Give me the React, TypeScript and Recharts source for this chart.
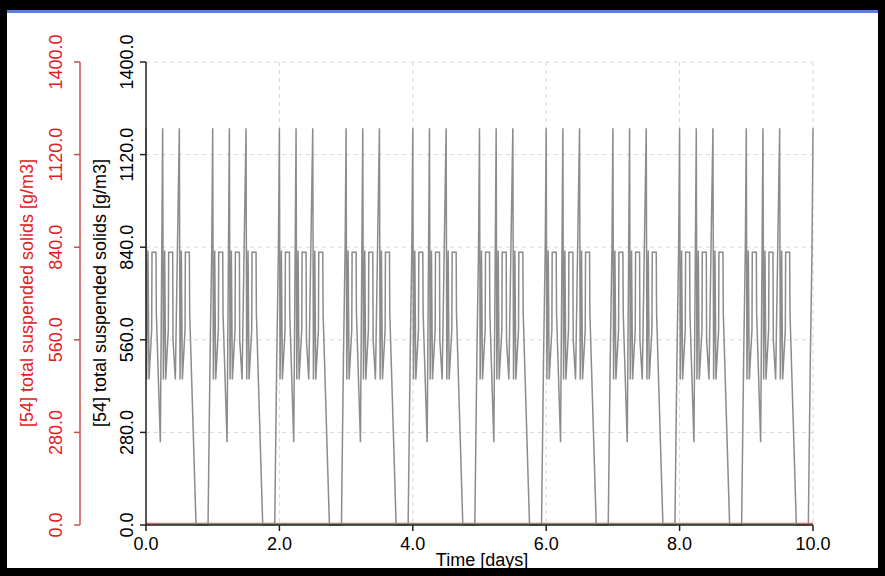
import { CartesianGrid, Line, LineChart, XAxis, YAxis } from "recharts"

// one day of the cycle (offset in days, g/m3)
const dayOffsets = [0.0, 0.01, 0.03, 0.045, 0.085, 0.09, 0.15, 0.155, 0.215, 0.25, 0.26, 0.28, 0.295, 0.335, 0.34, 0.4, 0.405, 0.44, 0.5, 0.51, 0.53, 0.545, 0.585, 0.59, 0.65, 0.655, 0.75, 0.93, 0.96, 0.985]
const dayValues = [1200, 440, 830, 440, 590, 825, 825, 640, 250, 1200, 440, 830, 440, 590, 825, 825, 560, 440, 1200, 440, 830, 440, 590, 825, 825, 640, 0, 0, 500, 830]
const days = [0, 1, 2, 3, 4, 5, 6, 7, 8, 9]
const lastTime = 10
const lastValue = 1200
const redLevel = 4

const xTicks = [0, 2, 4, 6, 8, 10]
const yTicks = [0, 280, 560, 840, 1120, 1400]
const yTitle = "[54] total suspended solids [g/m3]"
const xTitle = "Time [days]"

const data: { t: number; tss: number; red: number }[] = []
days.forEach((d) => {
    dayOffsets.forEach((o, i) => data.push({ t: d + o, tss: dayValues[i], red: redLevel }))
})
data.push({ t: lastTime, tss: lastValue, red: redLevel })

const FONT = "'Liberation Sans', Arial, sans-serif"
const RED = "#e31b23"

const RotTick = (props: any) => {
    const { x, y, payload, fill, dx } = props
    return (
        <text
            transform={`translate(${x + dx},${y}) rotate(-90)`}
            textAnchor="middle"
            dominantBaseline="central"
            fill={fill}
            fontSize={18}
            fontFamily={FONT}
        >
            {Number(payload.value).toFixed(1)}
        </text>
    )
}

const App = () => {
    return (
        <div style={{ position: 'absolute', left: 0, top: 0, width: 885, height: 576, background: '#000' }}>
            <div style={{ position: 'absolute', left: 7, top: 10, width: 871, height: 3, background: '#5b7fd4' }} />
            <div style={{ position: 'absolute', left: 7, top: 13, width: 871, height: 555, background: '#fff' }} />
            <div style={{ position: 'absolute', left: 0, top: 0 }}>
                <LineChart
                    width={885}
                    height={576}
                    data={data}
                    margin={{ top: 62, right: 72, left: 0, bottom: 0 }}
                >
                    <CartesianGrid yAxisId="black" stroke="#d8d8d8" strokeDasharray="4 4" />
                    <XAxis
                        dataKey="t"
                        type="number"
                        domain={[0, 10]}
                        ticks={xTicks}
                        height={51}
                        tickFormatter={(v: number) => v.toFixed(1)}
                        tick={{ fill: '#000', fontSize: 18, fontFamily: FONT }}
                        tickMargin={6}
                        stroke="#222"
                        strokeWidth={1.5}
                    />
                    <YAxis
                        yAxisId="black"
                        domain={[0, 1400]}
                        ticks={yTicks}
                        width={66}
                        stroke="#222"
                        strokeWidth={1.5}
                        tick={<RotTick fill="#000" dx={-11} />}
                    />
                    <YAxis
                        yAxisId="red"
                        domain={[0, 1400]}
                        ticks={yTicks}
                        width={80}
                        stroke="#c8504f"
                        strokeWidth={1.5}
                        tick={<RotTick fill={RED} dx={-16} />}
                    />
                    <Line
                        yAxisId="black"
                        type="linear"
                        dataKey="tss"
                        stroke="#8c8c8c"
                        strokeWidth={1.5}
                        dot={false}
                        isAnimationActive={false}
                    />
                    <Line
                        yAxisId="red"
                        type="linear"
                        dataKey="red"
                        stroke="#d46a6a"
                        strokeWidth={2}
                        dot={false}
                        isAnimationActive={false}
                    />
                </LineChart>
            </div>
            <svg width={885} height={576} style={{ position: 'absolute', left: 0, top: 0, pointerEvents: 'none' }}>
                <text transform="translate(27,293) rotate(-90)" textAnchor="middle" dominantBaseline="central" fill={RED} fontSize={18} fontFamily={FONT}>{yTitle}</text>
                <text transform="translate(100,293) rotate(-90)" textAnchor="middle" dominantBaseline="central" fill="#000" fontSize={18} fontFamily={FONT}>{yTitle}</text>
                <text x={482} y={566} textAnchor="middle" fill="#000" fontSize={18} fontFamily={FONT}>{xTitle}</text>
            </svg>
        </div>
    )
}

export default App
